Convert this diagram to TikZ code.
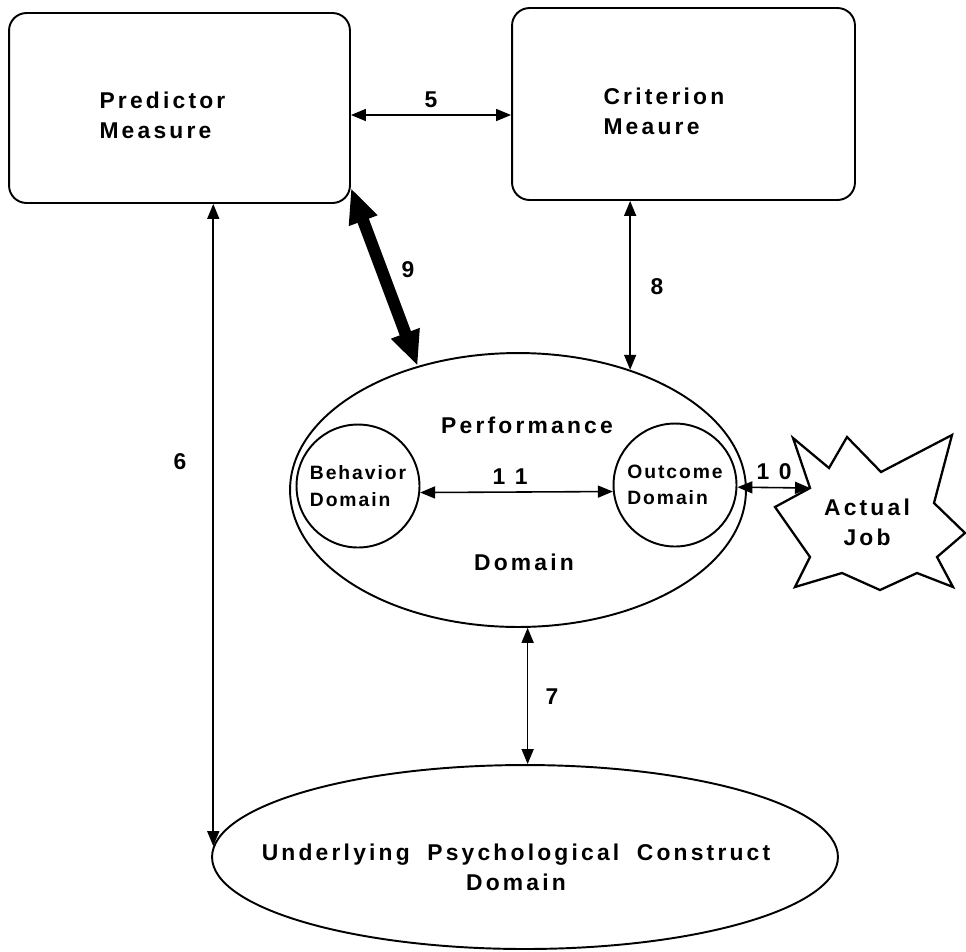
\documentclass[tikz,border=0pt]{standalone}
\usepackage{fontspec}
\usepackage{tikz}
\usetikzlibrary{shapes.geometric, arrows.meta, positioning, calc}
\newfontfamily\diagfont{Liberation Sans}[LetterSpace=14]
\newfontfamily\subfont{Liberation Sans}[LetterSpace=10]
\newcommand{\diagbig}{\diagfont\bfseries\fontsize{13}{17}\selectfont}
\newcommand{\diagsmall}{\subfont\bfseries\fontsize{11}{15}\selectfont}
\tikzset{
  measure/.style={rectangle,draw,line width=1.1pt,rounded corners=0.35cm,
    minimum width=6.82cm,minimum height=3.8cm,text width=3.2cm,align=left,
    execute at begin node={\rule{0pt}{0.64cm}},font=\diagbig},
  domainell/.style={ellipse,draw,line width=1.1pt,inner sep=0pt},
  subdom/.style={circle,draw,line width=1.1pt,minimum size=2.46cm,inner sep=0pt,
    align=left,font=\diagsmall},
  txt/.style={inner sep=0pt,font=\diagbig},
  numlbl/.style={inner sep=0pt,font=\diagbig},
  dblarrow/.style={<->,>={Triangle[length=3mm,width=2.4mm]},line width=0.9pt},
  heavyarrow/.style={<->,>={Triangle[length=7mm,width=5.6mm]},line width=0.24cm},
  burst/.style={draw,line width=1.3pt,line join=miter}
}
\begin{document}
\begin{tikzpicture}[x=0.02cm,y=-0.02cm]
  \useasboundingbox (0,0) rectangle (966,951);

  % ── Measures ─────────────────────────────────────────────────────────────
  \node[measure] (pred) at (179.5,108) {Predictor\\Measure};
  \node[measure,minimum width=6.86cm,minimum height=3.84cm] (crit) at (683.5,104) {Criterion\\Meaure};

  % ── Performance domain with its two parts ────────────────────────────────
  \node[domainell,minimum width=9.12cm,minimum height=5.48cm] (perf) at (518,490) {};
  \node[txt] (perftop) at (527,425) {Performance};
  \node[txt] (perfbot) at (524,562) {Domain};
  \node[subdom] (behav) at (358,486) {Behavior\\Domain};
  \node[subdom] (outc) at (675,485) {Outcome\\Domain};

  % ── Actual job (burst) ───────────────────────────────────────────────────
  \draw[burst] (793,438) -- (829,468) -- (847,437) -- (881,472) -- (952,435)
    -- (934,503) -- (965,533) -- (937,557) -- (953,587) -- (917,573)
    -- (880,590) -- (842,573) -- (795,587) -- (810,557) -- (775,507)
    -- (810,488) -- cycle;
  \coordinate (jobtip) at (810,488);
  \node[txt,align=center] (job) at (867,522) {Actual\\Job};

  % ── Underlying construct ─────────────────────────────────────────────────
  \node[domainell,minimum width=12.52cm,minimum height=3.68cm] (psych) at (525,857) {};
  \node[txt,align=center] (psychlbl) at (516,867)
    {Underlying\hspace{0.35cm}Psychological\hspace{0.35cm}Construct\\Domain};

  % ── Links ────────────────────────────────────────────────────────────────
  \draw[dblarrow] ([yshift=-0.14cm]pred.east) -- ([yshift=-0.14cm]pred.east -| crit.west);
  \draw[dblarrow] (pred.south -| psych.178) -- (psych.178);
  \draw[dblarrow] (crit.south -| perf.47) -- (perf.47);
  \draw[dblarrow] (perf.-86) -- (perf.-86 |- psych.north);
  \draw[heavyarrow] (pred.-25) -- (perf.129);
  \draw[dblarrow] (behav.-6) -- (outc.186);
  \draw[dblarrow] (outc.-2) -- (jobtip);

  % ── Link numbers ─────────────────────────────────────────────────────────
  \node[numlbl] (n5) at (431,100) {5};
  \node[numlbl] (n6) at (180,462) {6};
  \node[numlbl] (n7) at (552,697) {7};
  \node[numlbl] (n8) at (657,287) {8};
  \node[numlbl] (n9) at (408,270) {9};
  \node[numlbl] (n10) at (774,472) {1 0};
  \node[numlbl] (n11) at (510,477) {1 1};
\end{tikzpicture}
\end{document}
